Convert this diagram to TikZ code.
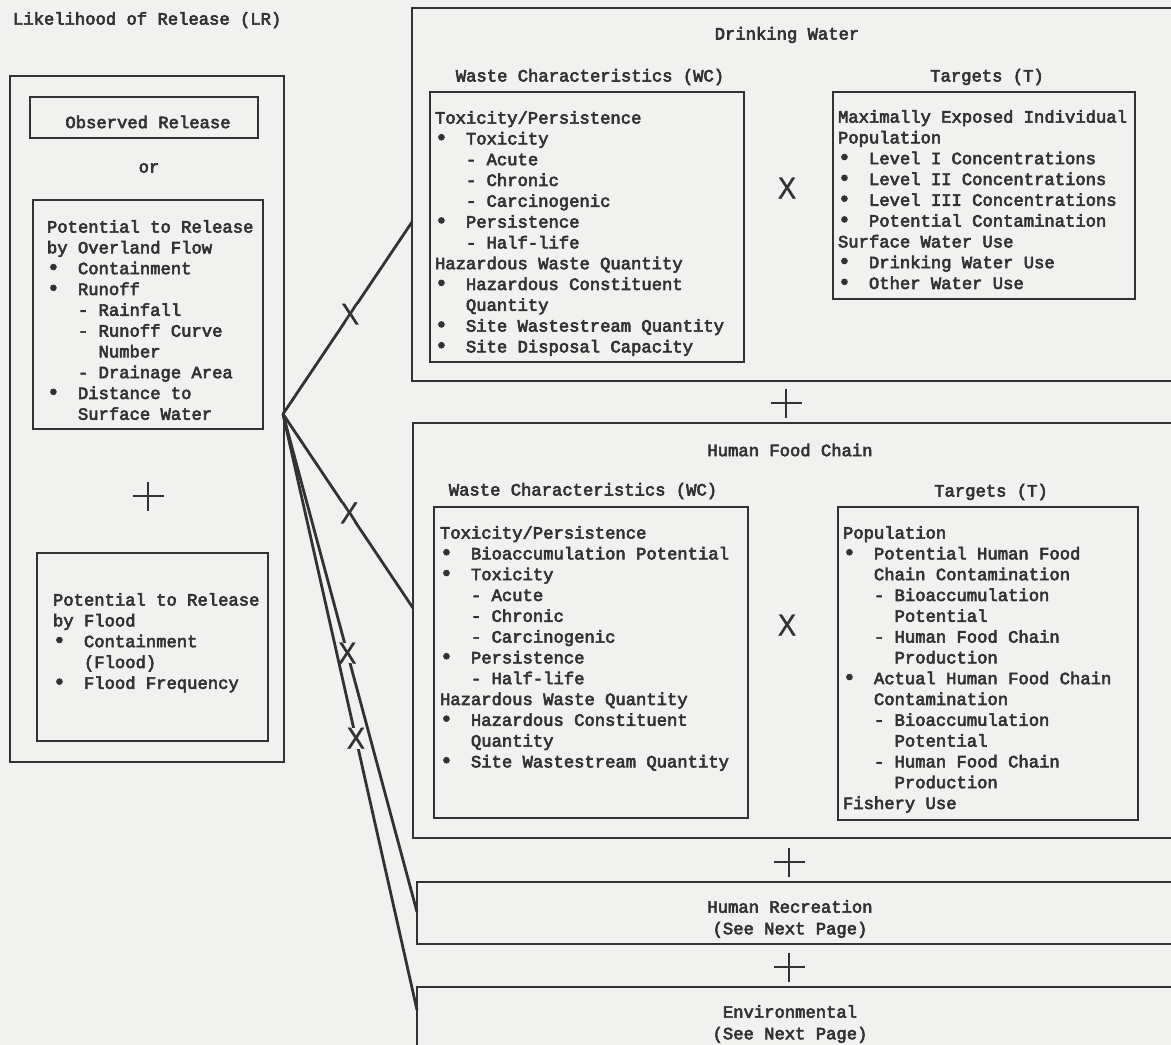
\documentclass[tikz,border=0pt]{standalone}
\usepackage{fontspec}
\setmainfont[FakeBold=3.5]{Liberation Mono}
\newfontfamily\xfont[FakeBold=1.2]{Liberation Sans}
\usetikzlibrary{calc}
\definecolor{bg}{RGB}{241,241,239}
\definecolor{ink}{RGB}{50,50,50}
\newcommand{\bul}{\makebox[0pt][l]{\scalebox{1.25}{•}}\hphantom{xxx}}
\newcommand{\ind}{\hphantom{xxx}}
\newcommand{\dsh}{\hphantom{xxx}-\hphantom{x}}
\newcommand{\dind}{\hphantom{xxxxx}}
\begin{document}
\begin{tikzpicture}[x=1pt,y=-1pt,
  box/.style={draw=ink, line width=1.8pt, inner sep=0pt, outer sep=0pt, anchor=north west},
  txt/.style={text=ink, inner sep=0pt, outer sep=0pt, anchor=north west, align=left, font=\fontsize{17.2pt}{20.8pt}\selectfont},
  lbl/.style={text=ink, inner sep=0pt, outer sep=0pt, align=center, font=\fontsize{17.2pt}{21.6pt}\selectfont},
  conn/.style={draw=ink, line width=2.8pt},
  xm/.style={text=ink, fill=bg, inner sep=0pt, xscale=0.9, font=\xfont\fontsize{30pt}{30pt}\selectfont},
  bigx/.style={text=ink, inner sep=0pt, xscale=0.9, font=\xfont\fontsize{30pt}{30pt}\selectfont},
  plus/.style={minimum width=31pt, minimum height=29pt, inner sep=0pt, outer sep=0pt},
  pl/.style={draw=ink, line width=1.6pt}
]
\useasboundingbox (0,0) rectangle (1171,1045);
\fill[bg] (0,0) rectangle (1171,1045);

% ---------- Likelihood of Release ----------
\node[txt] (lrtitle) at (13,10) {\strut Likelihood of Release (LR)};
\node[box, minimum width=274pt, minimum height=686pt] (lr) at (10,76) {};
\node[box, minimum width=228pt, minimum height=41pt] (obs) at (30,97) {};
\node[lbl] (obst) at (148,122) {Observed Release};
\node[lbl] (or) at (149,168) {or};
\node[box, minimum width=230pt, minimum height=229pt] (ovl) at (33,200) {};
\node[txt] (ovlt) at (47,218) {\strut Potential to Release\\by Overland Flow\\\bul Containment\\\bul Runoff\\\dsh Rainfall\\\dsh Runoff Curve\\\dind Number\\\dsh Drainage Area\\\bul Distance to\\\ind Surface Water};
\node[plus] (p0) at (148,496) {};
\draw[pl] (p0.north) -- (p0.south) (p0.west) -- (p0.east);
\node[box, minimum width=231pt, minimum height=188pt] (fld) at (37,553) {};
\node[txt] (fldt) at (53,591) {\strut Potential to Release\\by Flood\\\bul Containment\\\ind (Flood)\\\bul Flood Frequency};

% ---------- Drinking Water ----------
\node[box, minimum width=768pt, minimum height=373pt] (dw) at (412,8) {};
\node[lbl] (dwt) at (787,35) {Drinking Water};
\node[lbl] (dwwcl) at (590,77) {Waste Characteristics (WC)};
\node[lbl] (dwtl) at (987,77) {Targets (T)};
\node[box, minimum width=314pt, minimum height=270pt] (dwwc) at (430,92) {};
\node[txt] (dwwct) at (435,109) {\strut Toxicity/Persistence\\\bul Toxicity\\\dsh Acute\\\dsh Chronic\\\dsh Carcinogenic\\\bul Persistence\\\dsh Half-life\\Hazardous Waste Quantity\\\bul Hazardous Constituent\\\ind Quantity\\\bul Site Wastestream Quantity\\\bul Site Disposal Capacity};
\node[box, minimum width=302pt, minimum height=207pt] (dwtg) at (833,92) {};
\node[txt] (dwtgt) at (838,108) {\strut Maximally Exposed Individual\\Population\\\bul Level I Concentrations\\\bul Level II Concentrations\\\bul Level III Concentrations\\\bul Potential Contamination\\Surface Water Use\\\bul Drinking Water Use\\\bul Other Water Use};
\node[bigx] (dwx) at (787,188) {X};
\node[plus] (p1) at (786,403) {};
\draw[pl] (p1.north) -- (p1.south) (p1.west) -- (p1.east);

% ---------- Human Food Chain ----------
\node[box, minimum width=767pt, minimum height=415pt] (hfc) at (413,423) {};
\node[lbl] (hfct) at (790,450) {Human Food Chain};
\node[lbl] (hfcwcl) at (583,491) {Waste Characteristics (WC)};
\node[lbl] (hfctl) at (991,492) {Targets (T)};
\node[box, minimum width=314pt, minimum height=311pt] (hfcwc) at (434,507) {};
\node[txt] (hfcwct) at (440,524) {\strut Toxicity/Persistence\\\bul Bioaccumulation Potential\\\bul Toxicity\\\dsh Acute\\\dsh Chronic\\\dsh Carcinogenic\\\bul Persistence\\\dsh Half-life\\Hazardous Waste Quantity\\\bul Hazardous Constituent\\\ind Quantity\\\bul Site Wastestream Quantity};
\node[box, minimum width=300pt, minimum height=313pt] (hfctg) at (838,507) {};
\node[txt] (hfctgt) at (843,524) {\strut Population\\\bul Potential Human Food\\\ind Chain Contamination\\\dsh Bioaccumulation\\\dind Potential\\\dsh Human Food Chain\\\dind Production\\\bul Actual Human Food Chain\\\ind Contamination\\\dsh Bioaccumulation\\\dind Potential\\\dsh Human Food Chain\\\dind Production\\Fishery Use};
\node[bigx] (hfcx) at (787,625) {X};
\node[plus] (p2) at (789,862) {};
\draw[pl] (p2.north) -- (p2.south) (p2.west) -- (p2.east);

% ---------- Human Recreation / Environmental ----------
\node[box, minimum width=763pt, minimum height=62pt] (rec) at (417,882) {};
\node[lbl] (rect) at (790,919) {Human Recreation\\(See Next Page)};
\node[plus] (p3) at (789,967) {};
\draw[pl] (p3.north) -- (p3.south) (p3.west) -- (p3.east);
\node[box, minimum width=763pt, minimum height=100pt] (env) at (417,987) {};
\node[lbl] (envt) at (790,1024) {Environmental\\(See Next Page)};

% ---------- connectors ----------
\coordinate (hub) at (283,414);
\coordinate (e1) at (dw.west |- 0,222);
\coordinate (e2) at (hfc.west |- 0,608);
\coordinate (e3) at (rec.west |- 0,912);
\coordinate (e4) at (env.west |- 0,1010);
\draw[conn] (hub) -- node[xm, pos=0.52] (x1) {X} (e1);
\draw[conn] (hub) -- node[xm, pos=0.51] (x2) {X} (e2);
\draw[conn] (hub) -- node[xm, pos=0.48] (x3) {X} (e3);
\draw[conn] (hub) -- node[xm, pos=0.544] (x4) {X} (e4);
\end{tikzpicture}
\end{document}
